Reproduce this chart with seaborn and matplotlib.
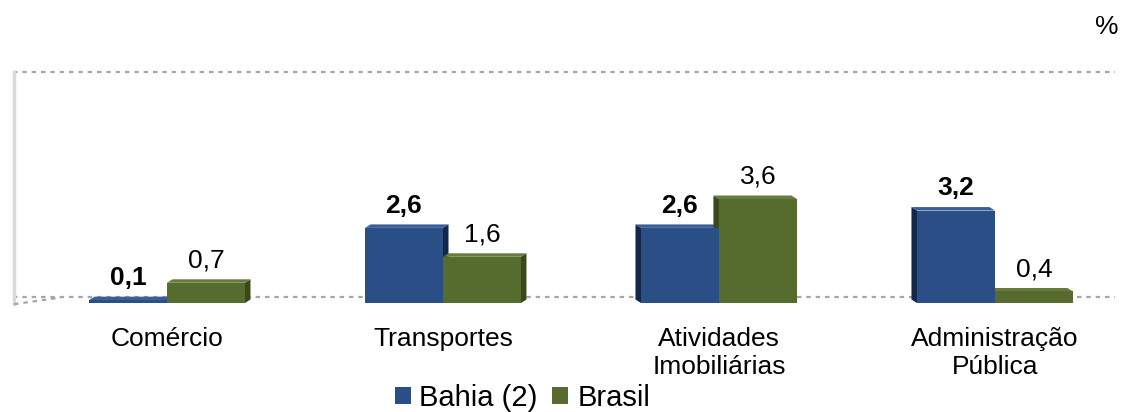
import matplotlib
matplotlib.use("Agg")
import matplotlib.pyplot as plt
from matplotlib.patches import Polygon
import seaborn as sns
import pandas as pd

categories = ["Comércio", "Transportes", "Atividades\nImobiliárias", "Administração\nPública"]
bahia = [0.1, 2.6, 2.6, 3.2]
brasil = [0.7, 1.6, 3.6, 0.4]
series_names = ["Bahia (2)", "Brasil"]
bahia_labels = ["0,1", "2,6", "2,6", "3,2"]
brasil_labels = ["0,7", "1,6", "3,6", "0,4"]
grid_values = [0.21, 8.0]

colors = {"Bahia (2)": "#2A4F86", "Brasil": "#566B2E"}
side_colors = {"Bahia (2)": "#12274A", "Brasil": "#38491B"}
top_colors = {"Bahia (2)": "#3A5F96", "Brasil": "#667B3C"}

plt.rcParams["font.family"] = ["Liberation Sans", "DejaVu Sans"]

df = pd.DataFrame({
    "cat": categories * 2,
    "val": bahia + brasil,
    "serie": [series_names[0]] * 4 + [series_names[1]] * 4,
})

fig = plt.figure(figsize=(11.21, 4.12), dpi=100)
ax = fig.add_axes([13 / 1121, (412 - 310) / 412, (1115 - 13) / 1121, 250 / 412])

sns.barplot(data=df, x="cat", y="val", hue="serie", order=categories,
            hue_order=series_names, palette=colors, width=0.565, gap=0,
            ax=ax, legend=True, zorder=3, linewidth=0, saturation=1)

handles, labels = ax.get_legend_handles_labels()
ax.get_legend().remove()

ax.set_xlim(-0.558, 3.435)
ax.set_ylim(-0.242, 8.41)

# gridlines (floor and top wall)
for gv in grid_values:
    ax.axhline(gv, color="#A6A6A6", lw=1.6, ls=(0, (2, 2.2)), zorder=1)
# left wall
xl = -0.558 + 0.004
ax.plot([xl, xl], [grid_values[0] - 0.25, grid_values[1]],
        color="#D9D9D9", lw=2.5, zorder=1, clip_on=False)
ax.plot([xl, xl + 0.17], [grid_values[0] - 0.25, grid_values[0] - 0.02],
        color="#A6A6A6", lw=1.6, ls=(0, (2, 2.2)), zorder=1, clip_on=False)

# pseudo 3D faces
d, dy = 0.02, 0.12
for ci, name in enumerate(series_names):
    for i, bar in enumerate(ax.containers[ci]):
        x0 = bar.get_x()
        x1 = x0 + bar.get_width()
        h = bar.get_height()
        if i < 2:
            side = [(x1, 0), (x1 + d, dy), (x1 + d, h + dy), (x1, h)]
            top = [(x0, h), (x0 + d, h + dy), (x1 + d, h + dy), (x1, h)]
        else:
            side = [(x0, 0), (x0 - d, dy), (x0 - d, h + dy), (x0, h)]
            top = [(x0, h), (x0 - d, h + dy), (x1 - d, h + dy), (x1, h)]
        ax.add_patch(Polygon(side, closed=True, color=side_colors[name], lw=0, zorder=2.9))
        ax.add_patch(Polygon(top, closed=True, color=top_colors[name], lw=0, zorder=2.9))

# value labels
for ci, (labs, weight) in enumerate([(bahia_labels, "bold"), (brasil_labels, "normal")]):
    for bar, lab in zip(ax.containers[ci], labs):
        ax.annotate(lab, (bar.get_x() + bar.get_width() / 2, bar.get_height()),
                    xytext=(0, 11), textcoords="offset points", ha="center",
                    va="baseline", fontsize=19, fontweight=weight, color="#000000")

for s in ax.spines.values():
    s.set_visible(False)
ax.set_yticks([])
ax.set_xlabel("")
ax.set_ylabel("")
ax.tick_params(axis="x", length=0, pad=12, labelsize=19)
for t in ax.get_xticklabels():
    t.set_linespacing(1.22)
ax.set_facecolor("white")

fig.text(1107 / 1121, 1 - 27 / 412, "%", ha="center", va="center", fontsize=19)

fig.legend(handles, labels, loc="center", bbox_to_anchor=(0.466, 0.034), ncol=2,
           frameon=False, fontsize=21, handlelength=0.55, handleheight=0.55,
           handletextpad=0.3, columnspacing=0.5, borderpad=0)

fig.savefig("out.png", dpi=100)
